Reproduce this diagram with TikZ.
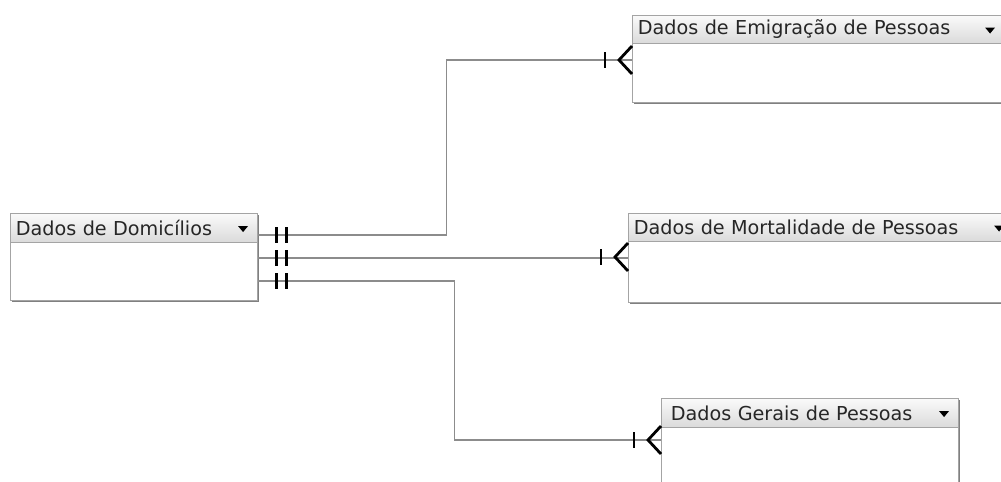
\documentclass[tikz,border=0pt]{standalone}
\usepackage{fontspec}
\setmainfont{DejaVu Sans}
\usetikzlibrary{calc,shadows}

\definecolor{boxgray}{HTML}{A4A4A4}
\definecolor{linegray}{HTML}{8C8C8C}
\definecolor{hdrtop}{HTML}{FAFAFA}
\definecolor{hdrbot}{HTML}{DADADA}

\tikzset{
  tbl/.style={rectangle, draw=boxgray, line width=1.1pt, fill=white, anchor=north west, inner sep=0pt,
    general shadow={fill=black!50, shadow xshift=1.1pt, shadow yshift=-1.1pt}},
  hdr/.style={rectangle, draw=boxgray, line width=0.8pt, top color=hdrtop, bottom color=hdrbot,
    anchor=north west, inner xsep=4pt, inner ysep=0pt, text=black!85,
    font=\fontsize{14.4}{16}\selectfont, align=left},
  rel/.style={draw=linegray, line width=0.8pt},
  notch/.style={line width=2.1pt, black},
  caret/.style={fill=black}
}

\begin{document}
\begin{tikzpicture}[x=0.75pt, y=-0.75pt]
  \useasboundingbox (0,0) rectangle (1001,482);
  \clip (0,0) rectangle (1001,482);

  % tables
  \node[tbl, minimum width=185.25pt, minimum height=65.25pt] (dom) at (10,213) {};
  \node[hdr, minimum width=185.25pt, minimum height=21.75pt, text width=177.25pt] (domh) at (dom.north west) {Dados de Domicílios};

  \node[tbl, minimum width=279pt, minimum height=65.25pt] (emig) at (632,15) {};
  \node[hdr, minimum width=279pt, minimum height=21pt, text width=271pt] (emigh) at (emig.north west) {Dados de Emigração de Pessoas};

  \node[tbl, minimum width=288.75pt, minimum height=66.75pt] (mort) at (628,213) {};
  \node[hdr, minimum width=288.75pt, minimum height=21pt, text width=280.75pt] (morth) at (mort.north west) {Dados de Mortalidade de Pessoas};

  \node[tbl, minimum width=222.75pt, minimum height=75pt] (ger) at (661,398) {};
  \node[hdr, minimum width=222.75pt, minimum height=21.75pt, text width=214.75pt] (gerh) at (ger.north west) {\hspace{3pt}Dados Gerais de Pessoas};

  % drop-down carets
  \foreach \t in {domh,emigh,morth,gerh}
    \fill[caret] ($(\t.east)+(-20,-2)$) -- ++(10,0) -- ++(-5,6) -- cycle;

  % connection points
  \coordinate (d1) at ($(dom.north east)+(0,22)$);
  \coordinate (d2) at ($(dom.north east)+(0,45)$);
  \coordinate (d3) at ($(dom.north east)+(0,68)$);
  \coordinate (e1) at ($(emig.north west)+(0,45)$);
  \coordinate (m1) at ($(mort.north west)+(0,44)$);
  \coordinate (g1) at ($(ger.north west)+(0,42)$);

  % relationships
  \draw[rel] (d1) -- ++(188,0) |- (e1);
  \draw[rel] (d2) -- (d2 -| m1);
  \draw[rel] (d3) -- ++(196,0) |- (g1);

  % one-and-only-one ends
  \foreach \p in {d1,d2,d3} {
    \draw[notch] ($(\p)+(18,-8)$) -- ++(0,16);
    \draw[notch] ($(\p)+(28,-8)$) -- ++(0,16);
  }

  % one-or-many ends
  \foreach \p in {e1,m1,g1} {
    \draw[notch] ($(\p)+(-27,-8)$) -- ++(0,16);
    \draw[notch] ($(\p)+(0,-14)$) -- ($(\p)+(-13,0)$) -- ($(\p)+(0,14)$);
  }
\end{tikzpicture}
\end{document}
